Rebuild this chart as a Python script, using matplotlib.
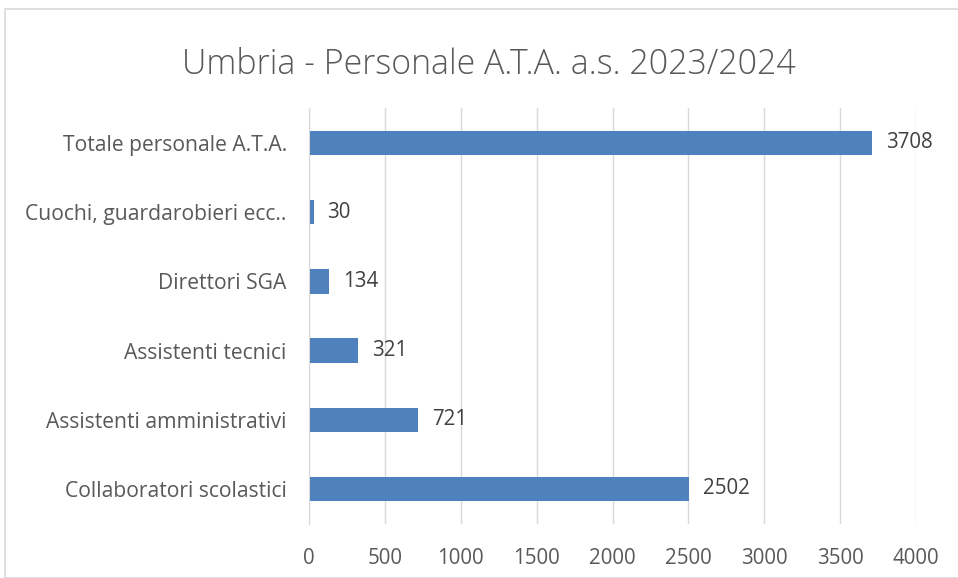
import matplotlib
matplotlib.use("Agg")
import matplotlib.pyplot as plt
from matplotlib.patches import Rectangle

categories = ["Collaboratori scolastici", "Assistenti amministrativi", "Assistenti tecnici",
              "Direttori SGA", "Cuochi, guardarobieri ecc..", "Totale personale A.T.A."]
values = [2502, 721, 321, 134, 30, 3708]
xticks = [0, 500, 1000, 1500, 2000, 2500, 3000, 3500, 4000]

plt.rcParams['font.family'] = ['Open Sans', 'DejaVu Sans']

fig = plt.figure(figsize=(9.58, 5.78), dpi=100)
W, H = 958, 578
fig.patches.append(Rectangle((5 / W, 0), 1.2, 1 - 9 / H, transform=fig.transFigure,
                             fill=False, edgecolor='#d9d9d9', linewidth=1.2))

ax = fig.add_axes([309 / W, 1 - 523.6 / H, (916 - 309) / W, (523.6 - 108.4) / H])
ypos = list(range(len(categories)))
ax.barh(ypos, values, height=0.35, color='#4f81bd', zorder=3)
ax.set_xlim(0, 4000)
ax.set_ylim(-0.5, len(categories) - 0.5)
ax.set_xticks(xticks)
ax.set_xticklabels([str(t) for t in xticks])
ax.set_yticks(ypos)
ax.set_yticklabels(categories)
ax.tick_params(axis='x', length=0, pad=17.5, labelsize=14.8, labelcolor='#595959')
ax.tick_params(axis='y', length=0, pad=16, labelsize=15.2, labelcolor='#595959')
ax.grid(axis='x', color='#d9d9d9', linewidth=1, zorder=0)
for s in ['top', 'right', 'bottom']:
    ax.spines[s].set_visible(False)
ax.spines['left'].set_color('#d9d9d9')
ax.spines['left'].set_zorder(4)

for y, v in zip(ypos, values):
    ax.annotate(str(v), (v, y), xytext=(10, 0), textcoords='offset points',
                va='center', ha='left', fontsize=14.8, color='#404040')

fig.text(489 / W, 1 - 74 / H, "Umbria - Personale A.T.A. a.s. 2023/2024",
         ha='center', va='baseline', fontsize=24.4, color='#595959', fontweight='light')

fig.savefig("out.png", dpi=100)
